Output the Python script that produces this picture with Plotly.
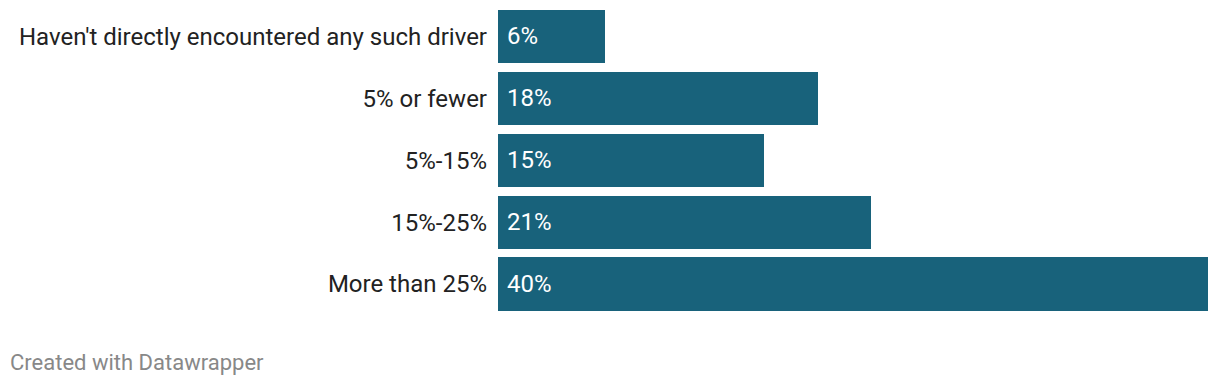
import plotly.graph_objects as go

categories = [
    "Haven't directly encountered any such driver",
    "5% or fewer",
    "5%-15%",
    "15%-25%",
    "More than 25%",
]
values = [6, 18, 15, 21, 40]
value_labels = [f"{v}%" for v in values]

BAR_COLOR = "#18627b"
FONT = "Roboto"

fig = go.Figure()
fig.add_trace(go.Bar(
    x=values,
    y=categories,
    orientation="h",
    marker=dict(color=BAR_COLOR, line=dict(width=0)),
    width=0.86,
    hoverinfo="skip",
))

for cat, lab in zip(categories, value_labels):
    fig.add_annotation(
        x=0, y=cat, xref="x", yref="y",
        text=lab, showarrow=False,
        xanchor="left", yanchor="middle", xshift=7,
        font=dict(family=FONT, size=24, color="white"),
    )

fig.add_annotation(
    x=0, y=0, xref="paper", yref="paper",
    text="Created with Datawrapper", showarrow=False,
    xanchor="left", yanchor="middle",
    xshift=-490, yshift=-47,
    font=dict(family=FONT, size=22, color="#888888"),
)

fig.update_layout(
    width=1220, height=388,
    margin=dict(l=490, r=20, t=0, b=80.5),
    paper_bgcolor="white", plot_bgcolor="white",
    showlegend=False,
    bargap=0,
    xaxis=dict(range=[0, 40], visible=False, fixedrange=True),
    yaxis=dict(
        categoryorder="array", categoryarray=categories,
        range=[4.5, -0.4597],
        showgrid=False, zeroline=False, showline=False,
        ticks="", ticklabelstandoff=10,
        tickfont=dict(family=FONT, size=24, color="#222222"),
        fixedrange=True,
    ),
    font=dict(family=FONT),
)

fig.write_html("out.html")
